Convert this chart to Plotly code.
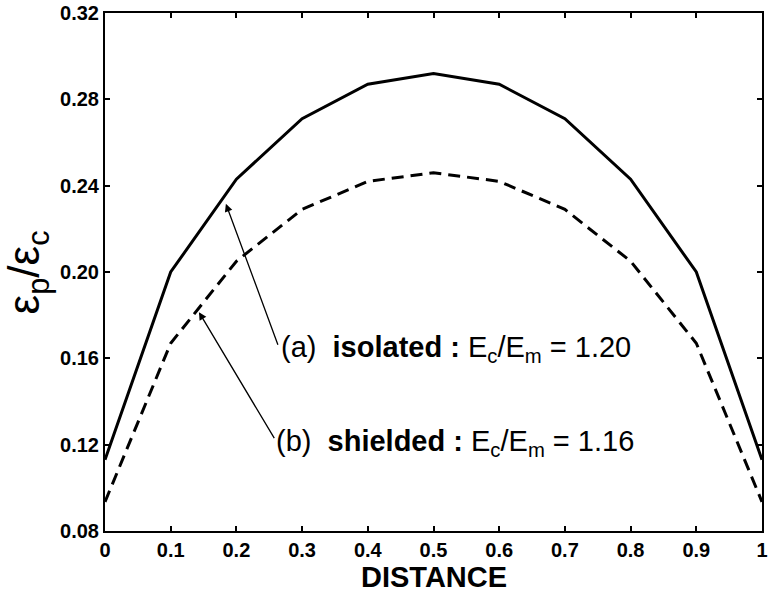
import plotly.graph_objects as go

distance = [0, 0.1, 0.2, 0.3, 0.4, 0.5, 0.6, 0.7, 0.8, 0.9, 1.0]
isolated = [0.113, 0.200, 0.243, 0.271, 0.287, 0.292, 0.287, 0.271, 0.243, 0.200, 0.113]
shielded = [0.0935, 0.167, 0.205, 0.229, 0.242, 0.246, 0.242, 0.229, 0.205, 0.167, 0.0935]

x_ticks = [0, 0.1, 0.2, 0.3, 0.4, 0.5, 0.6, 0.7, 0.8, 0.9, 1.0]
x_ticktext = ["0", "0.1", "0.2", "0.3", "0.4", "0.5", "0.6", "0.7", "0.8", "0.9", "1"]
y_ticks = [0.08, 0.12, 0.16, 0.20, 0.24, 0.28, 0.32]

label_a = "(a)  <b>isolated</b><b> : </b>E<sub>c</sub>/E<sub>m</sub> = 1.20"
label_b = "(b)  <b>shielded</b><b> : </b>E<sub>c</sub>/E<sub>m</sub> = 1.16"

FONT = "Liberation Sans, Arial, sans-serif"

fig = go.Figure()
fig.add_trace(go.Scatter(x=distance, y=isolated, mode="lines",
                         line=dict(color="black", width=3), showlegend=False))
fig.add_trace(go.Scatter(x=distance, y=shielded, mode="lines",
                         line=dict(color="black", width=3, dash="12px,7px"), showlegend=False))

axis_common = dict(showline=True, linecolor="black", linewidth=2, mirror="ticks",
                   ticks="inside", ticklen=5, tickwidth=1.5, tickcolor="black",
                   showgrid=False, zeroline=False, ticklabeloverflow="allow",
                   tickfont=dict(family=FONT, size=20, color="black", weight="bold"))

fig.update_xaxes(range=[0, 1], tickvals=x_ticks, ticktext=x_ticktext, **axis_common)
fig.update_yaxes(range=[0.08, 0.32], tickvals=y_ticks, tickformat=".2f", **axis_common)

# Arrows
fig.add_annotation(x=0.184, y=0.2316, ax=0.264, ay=0.1656, xref="x", yref="y",
                   axref="x", ayref="y", text="", showarrow=True, arrowhead=2,
                   arrowsize=1.2, arrowwidth=1.3, arrowcolor="black", standoff=0)
fig.add_annotation(x=0.143, y=0.1814, ax=0.259, ay=0.1223, xref="x", yref="y",
                   axref="x", ayref="y", text="", showarrow=True, arrowhead=2,
                   arrowsize=1.2, arrowwidth=1.3, arrowcolor="black", standoff=0)

# Labels
fig.add_annotation(x=0.265, y=0.1642, xref="x", yref="y", text=label_a, showarrow=False,
                   xanchor="left", yanchor="middle",
                   font=dict(family=FONT, size=29, color="black"))
fig.add_annotation(x=0.257, y=0.1209, xref="x", yref="y", text=label_b, showarrow=False,
                   xanchor="left", yanchor="middle",
                   font=dict(family=FONT, size=29, color="black"))

# Axis titles
fig.add_annotation(x=0.5, y=-0.089, xref="paper", yref="paper", text="<b>DISTANCE</b>",
                   showarrow=False, xanchor="center", yanchor="middle",
                   font=dict(family=FONT, size=29, color="black"))
fig.add_annotation(x=-0.118, y=0.5, xref="paper", yref="paper",
                   text="ε<sub>p</sub>/ε<sub>c</sub>", textangle=-90,
                   showarrow=False, xanchor="center", yanchor="middle",
                   font=dict(family=FONT, size=44, color="black"))

fig.update_layout(width=770, height=596, margin=dict(l=105, r=2, t=13, b=65),
                  plot_bgcolor="white", paper_bgcolor="white")

fig.write_html("out.html")
